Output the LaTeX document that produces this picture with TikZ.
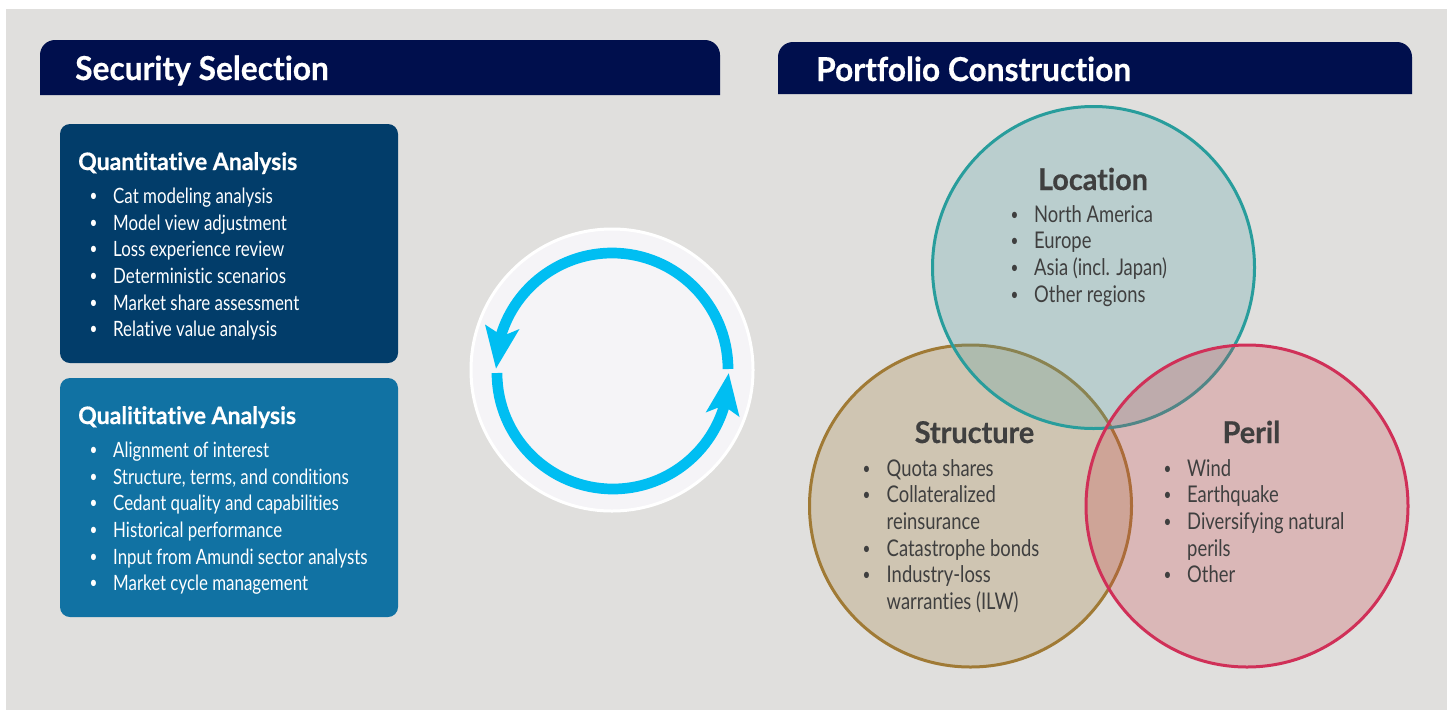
\documentclass[tikz,border=0pt]{standalone}
\usepackage{fontspec}
\setmainfont{Lato}
\newfontfamily\bodyfont[FakeStretch=0.8,Ligatures=NoCommon]{Lato}
\newfontfamily\headfont[FakeStretch=0.96,FakeBold=0.5,Ligatures=NoCommon]{Lato Bold}
\newcommand{\itemdot}{\raisebox{2pt}{\fontsize{17}{17}\selectfont\textbullet}}
\definecolor{pagegrey}{HTML}{E0DFDD}
\definecolor{navy}{HTML}{000F4D}
\definecolor{quantblue}{HTML}{023D6A}
\definecolor{qualblue}{HTML}{1172A3}
\definecolor{cycleblue}{HTML}{00BEF2}
\definecolor{cyclefill}{HTML}{F5F4F7}
\definecolor{vennteal}{HTML}{289D9C}
\definecolor{vennbrown}{HTML}{A07A35}
\definecolor{vennred}{HTML}{D03058}
\definecolor{tealfill}{HTML}{4C9FA5}
\definecolor{redfill}{HTML}{CC4349}
\definecolor{darktext}{HTML}{3F3F3F}
\tikzset{
  banner/.style={anchor=base west,inner sep=0pt,text=white,font=\headfont\fontsize{33}{38}\selectfont},
  boxtitle/.style={anchor=base west,inner sep=0pt,text=white,font=\headfont\fontsize{24}{26}\selectfont},
  boxitem/.style={anchor=base west,inner sep=0pt,text=white,font=\bodyfont\fontsize{21.1}{26}\selectfont},
  venntitle/.style={anchor=base,inner sep=0pt,text=darktext,font=\headfont\fontsize{30}{34}\selectfont},
  vennitem/.style={anchor=base west,inner sep=0pt,text=darktext,font=\bodyfont\fontsize{23}{26}\selectfont},
  vennset/.style={line width=3pt,fill opacity=0.25}
}
\begin{document}
\begin{tikzpicture}[x=1pt,y=-1pt]
	\useasboundingbox (0,0) rectangle (1447,710);
	\fill[white] (0,0) rectangle (1447,710);
	\fill[pagegrey] (6,9) rectangle (1447,710);
	% banners
	\fill[navy] (40,95) -- (40,55) arc[start angle=180,end angle=270,radius=15] -- (705,40) arc[start angle=270,end angle=360,radius=15] -- (720,95) -- cycle;
	\fill[navy] (778,94) -- (778,57) arc[start angle=180,end angle=270,radius=15] -- (1397,42) arc[start angle=270,end angle=360,radius=15] -- (1412,94) -- cycle;
	\node[banner] (secsel) at (75,80) {Security Selection};
	\node[banner] (portcon) at (816,81) {Portfolio Construction};
	% analysis boxes
	\fill[quantblue,rounded corners=10pt] (60,124) rectangle (398,363);
	\fill[qualblue,rounded corners=10pt] (60,378) rectangle (398,617);
	\node[boxtitle] (quant) at (78,170) {Quantitative Analysis};
	\node[boxtitle] (qual) at (78,424) {Qualititative Analysis};
	\foreach \t [count=\i] in {Cat modeling analysis,Model view adjustment,Loss experience review,Deterministic scenarios,Market share assessment,Relative value analysis}
	{
		\node[boxitem] (quantbul\i) at (89.5,177+26.65*\i) {\itemdot};
		\node[boxitem] (quantitem\i) at (113,177+26.65*\i) {\t};
	}
	\foreach \t [count=\i] in {Alignment of interest,{Structure, terms, and conditions},Cedant quality and capabilities,Historical performance,Input from Amundi sector analysts,Market cycle management}
	{
		\node[boxitem] (qualbul\i) at (89.5,431+26.65*\i) {\itemdot};
		\node[boxitem] (qualitem\i) at (113,431+26.65*\i) {\t};
	}
	% cycle
	\draw[white,line width=3pt,fill=cyclefill] (612,370) circle[radius=141];
	\draw[cycleblue,line width=10.7pt] (728,369) arc[start angle=0,end angle=-163,radius=116];
	\draw[cycleblue,line width=10.7pt] (497,373) arc[start angle=180,end angle=17,radius=116];
	\fill[cycleblue] (496,368.5) -- (485,324.5) -- (498,333) -- (507.5,334) -- (519.5,329) -- cycle;
	\fill[cycleblue] (728.7,373.3) -- (739.5,417) -- (727,408) -- (717,408) -- (705.7,412.5) -- cycle;
	% venn
	\filldraw[vennset,draw=vennbrown,fill=vennbrown] (970.5,506) circle[radius=161];
	\filldraw[vennset,draw=vennteal,fill=tealfill] (1093.5,267.5) circle[radius=161];
	\filldraw[vennset,draw=vennred,fill=redfill] (1247,506) circle[radius=161];
	\node[venntitle] (location) at (1093,190) {Location};
	\node[venntitle] (structure) at (974.5,443) {Structure};
	\node[venntitle] (peril) at (1251.5,443) {Peril};
	\foreach \t [count=\i] in {North America,Europe,Asia (incl. Japan),Other regions}
	{
		\node[vennitem] (locbul\i) at (1010.5,195.5+26.65*\i) {\itemdot};
		\node[vennitem] (locitem\i) at (1034,195.5+26.65*\i) {\t};
	}
	\foreach \m/\t [count=\i] in {\itemdot/Quota shares,\itemdot/Collateralized,/reinsurance,\itemdot/Catastrophe bonds,\itemdot/Industry-loss,/warranties (ILW)}
	{
		\node[vennitem] (strbul\i) at (862.5,449.5+26.65*\i) {\m};
		\node[vennitem] (stritem\i) at (886.5,449.5+26.65*\i) {\t};
	}
	\foreach \m/\t [count=\i] in {\itemdot/Wind,\itemdot/Earthquake,\itemdot/Diversifying natural,/perils,\itemdot/Other}
	{
		\node[vennitem] (perbul\i) at (1163.5,449.5+26.65*\i) {\m};
		\node[vennitem] (peritem\i) at (1187,449.5+26.65*\i) {\t};
	}
\end{tikzpicture}
\end{document}
